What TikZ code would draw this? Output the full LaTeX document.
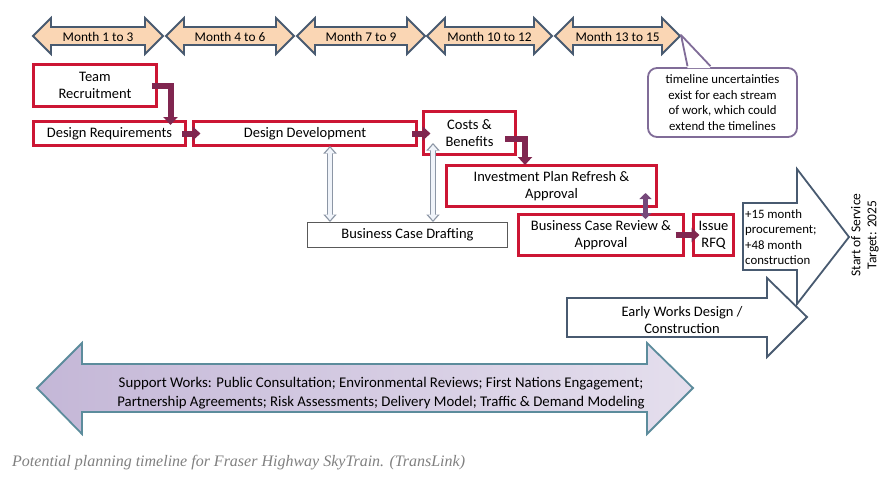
\documentclass[tikz,border=0pt]{standalone}
\usepackage{fontspec}
\setmainfont{Carlito}
\newfontfamily\captionfont{Liberation Serif}
\usepackage{tikz}
\usetikzlibrary{positioning, arrows.meta, calc}

\definecolor{stagered}{RGB}{204,22,52}
\definecolor{linkred}{RGB}{128,38,80}
\definecolor{linkpurple}{RGB}{118,72,122}
\definecolor{peach}{RGB}{250,214,180}
\definecolor{slate}{RGB}{72,90,112}
\definecolor{notepurple}{RGB}{128,108,152}
\definecolor{hollowedge}{RGB}{140,150,165}
\definecolor{hollowfill}{RGB}{240,244,250}
\definecolor{lavender}{RGB}{196,183,215}
\definecolor{supportedge}{RGB}{92,140,156}
\definecolor{captiongray}{RGB}{128,128,128}

\tikzset{
  stage/.style={draw=stagered, line width=3pt, fill=white, align=center, inner sep=0pt,
    font=\fontsize{14.5}{17}\selectfont},
  link/.style={draw=linkred, line width=6pt, line join=miter,
    -{Triangle[length=8pt,width=14pt]}},
  twoway/.style={draw=linkpurple, line width=5pt,
    {Triangle[length=6pt,width=12pt]}-{Triangle[length=6pt,width=12pt]}},
  hollow/.style={draw=hollowedge, line width=6pt,
    {Triangle[length=7.5pt,width=13pt]}-{Triangle[length=7.5pt,width=13pt]},
    postaction={draw=hollowfill, line width=3.4pt, shorten <=1.8pt, shorten >=1.8pt,
      {Triangle[length=5.5pt,width=9pt]}-{Triangle[length=5.5pt,width=9pt]}}},
  monthbar/.style={fill=peach, draw=slate, line width=1.8pt, line join=miter},
  bigarrow/.style={fill=white, draw=slate, line width=1.8pt, line join=miter},
  txt/.style={align=center, inner sep=0pt, font=\fontsize{14.5}{17}\selectfont}
}

\begin{document}
\begin{tikzpicture}[x=1pt, y=-1pt]
  \useasboundingbox[fill=white] (0,0) rectangle (891,480);

  % month scale
  \foreach \a/\b/\t [count=\i] in {33/163/Month 1 to 3, 166/294/Month 4 to 6,
      297/425/Month 7 to 9, 427/552/Month 10 to 12, 555/680/Month 13 to 15} {
    \filldraw[monthbar] (\a,36) -- (\a+18,18) -- (\a+18,27) -- (\b-18,27) -- (\b-18,18)
      -- (\b,36) -- (\b-18,54) -- (\b-18,45) -- (\a+18,45) -- (\a+18,54) -- cycle;
    \coordinate (tip\i) at (\b,36);
    \node[txt, font=\fontsize{13.3}{16}\selectfont] (month\i) at ({(\a+\b)/2},36.5) {\t};
  }

  % note on uncertainty
  \node[draw=notepurple, line width=1.8pt, rounded corners=9pt, fill=white, align=center,
    minimum width=149pt, minimum height=69pt, inner sep=0pt,
    font=\fontsize{12.8}{15.5}\selectfont] (note) at (722.5,102.5)
    {timeline uncertainties\\exist for each stream\\of work, which could\\extend the timelines};
  \fill[white] ([xshift=-35pt,yshift=-1pt]note.north) -- ([xshift=1pt,yshift=2pt]tip5)
    -- ([xshift=-12pt,yshift=-1pt]note.north) -- cycle;
  \draw[notepurple, line width=1.8pt, line join=round]
    ([xshift=-35pt,yshift=0.9pt]note.north) -- ([xshift=1pt,yshift=1pt]tip5)
    -- ([xshift=-12pt,yshift=0.9pt]note.north);

  % procurement and early works arrows
  \filldraw[bigarrow] (743,203) -- (797,203) -- (797,169) -- (849,237) -- (797,304)
    -- (797,270) -- (743,270) -- cycle;
  \node[align=left, inner sep=0pt, anchor=north west, font=\fontsize{12.8}{15.5}\selectfont]
    (procure) at (745,209) {+15 month\\procurement;\\+48 month\\construction};
  \filldraw[bigarrow] (567,298) -- (767,298) -- (767,278) -- (807,317) -- (767,357)
    -- (767,337) -- (567,337) -- cycle;
  \node[txt] (early) at (682,320) {Early Works Design /\\Construction};
  \node[txt, rotate=90, font=\fontsize{13.5}{16}\selectfont] (service) at (865,235)
    {Start of Service\\Target: 2025};

  % support works
  \filldraw[draw=supportedge, line width=1.8pt, line join=miter,
    left color=lavender, middle color=white, right color=lavender!45]
    (37,388) -- (82,343) -- (82,364) -- (647,364) -- (647,343) -- (693,388)
    -- (647,434) -- (647,412) -- (82,412) -- (82,434) -- cycle;
  \node[txt, font=\fontsize{14.8}{19}\selectfont] (support) at (381,393) {Support Works: Public Consultation; Environmental Reviews; First Nations Engagement;\\Partnership Agreements; Risk Assessments; Delivery Model; Traffic \& Demand Modeling};

  % stages
  \node[stage, minimum width=123pt, minimum height=42pt] (team) at (95,85.5) {Team\\Recruitment};
  \node[stage, minimum width=152pt, minimum height=24pt] (reqs) at (109.5,133.5) {Design Requirements};
  \node[stage, minimum width=223pt, minimum height=24pt] (devel) at (305,133.5) {Design Development};
  \node[stage, minimum width=92pt, minimum height=43pt] (costs) at (469.5,133) {Costs \&\\Benefits};
  \node[stage, minimum width=210pt, minimum height=41pt] (invest) at (551.5,186) {Investment Plan Refresh \&\\Approval};
  \node[stage, minimum width=165pt, minimum height=41pt] (review) at (601,235) {Business Case Review \&\\Approval};
  \node[stage, minimum width=40pt, minimum height=41pt] (rfq) at (713.5,235) {Issue\\RFQ};
  \node[draw=black!65, line width=1pt, fill=white, minimum width=200pt, minimum height=25pt,
    inner sep=0pt, font=\fontsize{14.5}{17}\selectfont] (drafting) at (407.5,235) {Business Case Drafting};

  % flow between stages
  \draw[link] ([xshift=-6pt]team.east) -| ([xshift=-16.5pt,yshift=-5pt]reqs.north east);
  \draw[link] ([xshift=-5pt]reqs.east) -- ([xshift=8.5pt]reqs.east -| devel.west);
  \draw[link] ([xshift=-6pt]devel.east) -- ([xshift=8.5pt]devel.east -| costs.west);
  \draw[link] ([xshift=-12pt,yshift=-6pt]costs.east) -| ([xshift=8pt,yshift=-1pt]costs.east |- invest.north);
  \draw[twoway] ([xshift=-12.5pt,yshift=15pt]invest.south east)
    -- ([xshift=-12.5pt,yshift=-6pt]invest.south east |- review.north);
  \draw[link] ([xshift=-9.5pt]review.east) -- ([xshift=7.5pt]review.east -| rfq.west);

  % drafting feeds
  \draw[hollow] ([xshift=25pt,yshift=1pt]devel.south) -- ([xshift=25pt]devel.south |- drafting.north);
  \draw[hollow] ([xshift=-36.5pt,yshift=13pt]costs.south) -- ([xshift=-36.5pt]costs.south |- drafting.north);

  % caption
  \node[anchor=west, inner sep=0pt, text=captiongray, font=\captionfont\itshape\fontsize{16}{18}\selectfont]
    (caption) at (12,463) {Potential planning timeline for Fraser Highway SkyTrain. (TransLink)};
\end{tikzpicture}
\end{document}
